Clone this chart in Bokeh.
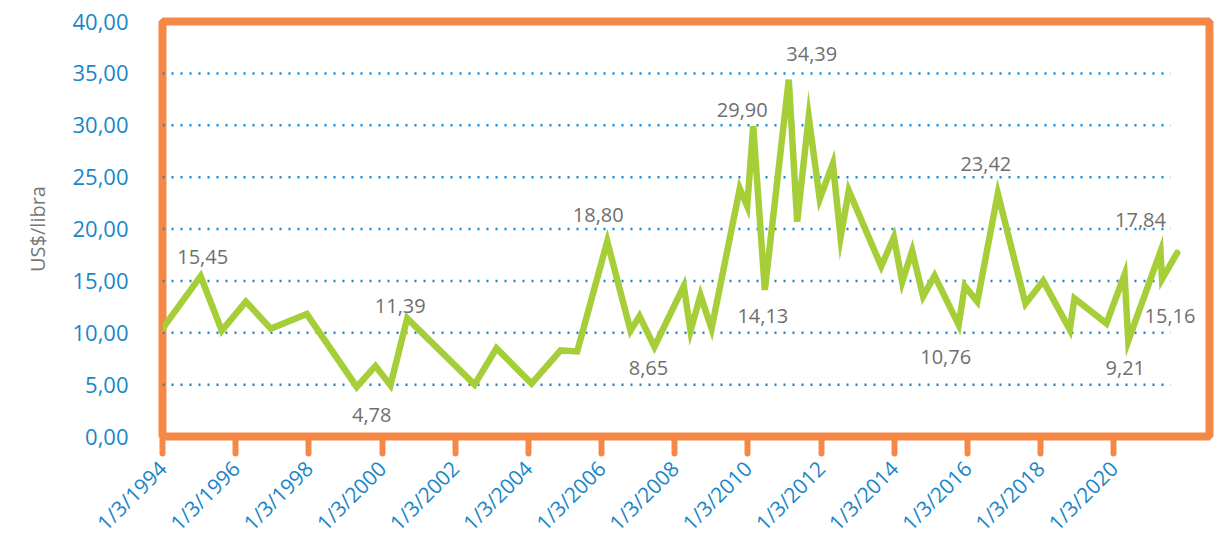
import math
import pandas as pd
from bokeh.plotting import figure
from bokeh.models import FixedTicker, ColumnDataSource, Range1d
from bokeh.embed import file_html
from bokeh.resources import INLINE
from bokeh.core.properties import value

# ---------------- data ----------------
dates = [
    "1994-03-01", "1995-03-17", "1995-10-14", "1996-06-10", "1997-02-15",
    "1998-02-09", "1999-06-22", "1999-12-26", "2000-05-24", "2000-11-07",
    "2002-09-10", "2003-04-17", "2004-04-01", "2005-01-16", "2005-07-01",
    "2006-04-27", "2006-12-15", "2007-03-15", "2007-08-11", "2008-05-30",
    "2008-08-05", "2008-11-13", "2009-03-03", "2009-12-10", "2010-02-22",
    "2010-04-23", "2010-08-17", "2011-04-13", "2011-07-06", "2011-10-29",
    "2012-02-16", "2012-06-26", "2012-09-11", "2012-12-02", "2013-10-22",
    "2014-02-25", "2014-05-19", "2014-08-27", "2014-12-14", "2015-04-07",
    "2015-12-04", "2016-02-03", "2016-06-07", "2016-12-29", "2017-10-01",
    "2018-03-27", "2018-12-17", "2019-02-02", "2019-12-18", "2020-06-16",
    "2020-07-23", "2021-06-10", "2021-06-25", "2021-11-23",
]
prices = [
    10.40, 15.45, 10.20, 13.00, 10.40,
    11.80, 4.78, 6.80, 4.95, 11.39,
    5.00, 8.50, 5.10, 8.30, 8.20,
    18.80, 10.20, 11.60, 8.65, 14.50,
    10.20, 13.60, 10.40, 23.90, 22.20,
    29.90, 14.13, 34.39, 20.70, 30.80,
    22.90, 26.30, 19.20, 23.70, 16.40,
    19.20, 14.90, 17.90, 13.50, 15.50,
    10.76, 14.50, 13.00, 23.42, 12.80,
    15.00, 10.30, 13.30, 10.90, 15.60,
    9.21, 17.84, 15.16, 17.70,
]
label_values = [15.45, 4.78, 11.39, 18.80, 8.65, 29.90, 14.13,
                34.39, 23.42, 10.76, 9.21, 17.84, 15.16]
y_ticks = [0, 5, 10, 15, 20, 25, 30, 35, 40]
y_tick_labels = ["0,00", "5,00", "10,00", "15,00", "20,00", "25,00",
                 "30,00", "35,00", "40,00"]
x_tick_labels = ["1/3/1994", "1/3/1996", "1/3/1998", "1/3/2000", "1/3/2002",
                 "1/3/2004", "1/3/2006", "1/3/2008", "1/3/2010", "1/3/2012",
                 "1/3/2014", "1/3/2016", "1/3/2018", "1/3/2020"]
y_title = "US$/libra"

# label placement (style: pixel offsets from each labelled point)
label_dx = [2, 15, -7, -9, -6, -11, -2, 23, -12, -13, -3, -20, 8]
label_dy = [-19, 28, -12, -26, 21, -16, 26, -26, -30, 32, 27, -31, 37]

# ---------------- styles ----------------
ORANGE = "#F68846"
GREEN = "#A6CE39"
BLUE = "#1A86C8"
DOT_BLUE = "#1786D0"
GRAY_LBL = "#6F6F6F"
GRAY_TITLE = "#767676"
FONT = "Open Sans"

def ms(d):
    return float(pd.Timestamp(d).value // 10**6)

xs = [pd.Timestamp(d) for d in dates]
x_tick_ms = [ms(pd.to_datetime(t, format="%d/%m/%Y")) for t in x_tick_labels]

p = figure(width=1222, height=549, x_axis_type="datetime",
           output_backend="svg", toolbar_location=None,
           x_range=Range1d(pd.Timestamp("1994-03-01"), pd.Timestamp("2022-10-12")),
           y_range=Range1d(0, 40),
           min_border_left=162, min_border_right=13, min_border_top=21,
           min_border_bottom=112)
p.background_fill_color = "white"
p.border_fill_color = "white"
p.outline_line_color = ORANGE
p.outline_line_width = 8
p.xgrid.visible = False
p.ygrid.visible = False

# dotted gridlines (stop short of the right frame like the original)
grid_y = y_ticks[1:-1]
grid_end = pd.Timestamp("2021-09-20")
p.segment(x0=[xs[0]] * len(grid_y), y0=grid_y, x1=[grid_end] * len(grid_y), y1=grid_y,
          line_color=DOT_BLUE, line_width=2.5, line_dash="2 7")

# main series
src = ColumnDataSource(dict(x=xs, y=prices))
p.line("x", "y", source=src, line_color=GREEN, line_width=6.5,
       line_join="miter", line_cap="round")

# data labels
lx, ly, lt = [], [], []
for v in label_values:
    i = prices.index(v)
    lx.append(xs[i]); ly.append(v)
    lt.append(f"{v:.2f}".replace(".", ","))
lsrc = ColumnDataSource(dict(x=lx, y=ly, t=lt, dx=label_dx, dy=label_dy))
p.text("x", "y", text="t", source=lsrc, x_offset="dx", y_offset="dy",
       text_align="center", text_baseline="middle",
       text_font=value(FONT), text_font_size="20px", text_color=GRAY_LBL)

# y axis
ya = p.yaxis[0]
ya.ticker = FixedTicker(ticks=y_ticks)
ya.major_label_overrides = {float(k): v for k, v in zip(y_ticks, y_tick_labels)}
ya.axis_line_color = None
ya.major_tick_line_color = None
ya.minor_tick_line_color = None
ya.major_tick_out = 0
ya.major_tick_in = 0
ya.major_label_standoff = 34
ya.major_label_text_font = FONT
ya.major_label_text_font_size = "22px"
ya.major_label_text_color = BLUE
ya.axis_label = y_title
ya.axis_label_text_font = FONT
ya.axis_label_text_font_size = "20px"
ya.axis_label_text_font_style = "normal"
ya.axis_label_text_color = GRAY_TITLE
ya.axis_label_standoff = 18

# x axis
xa = p.xaxis[0]
xa.ticker = FixedTicker(ticks=x_tick_ms)
xa.major_label_overrides = {k: v for k, v in zip(x_tick_ms, x_tick_labels)}
xa.major_label_orientation = math.pi / 4
xa.axis_line_color = None
xa.major_tick_line_color = ORANGE
xa.major_tick_line_width = 6
xa.major_tick_line_cap = "round"
xa.major_tick_out = 17
xa.major_tick_in = 0
xa.minor_tick_line_color = None
xa.major_label_standoff = 11
xa.major_label_text_font = FONT
xa.major_label_text_font_size = "21px"
xa.major_label_text_color = BLUE

open("out.html", "w").write(file_html(p, INLINE))
